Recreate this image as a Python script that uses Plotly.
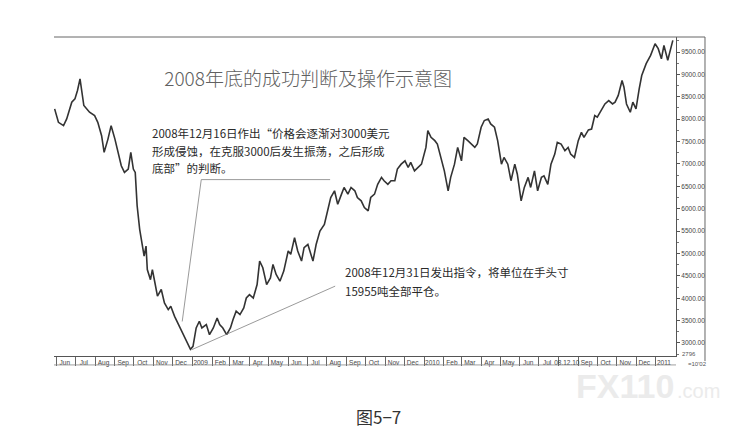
import plotly.graph_objects as go

# price path (USD/t), roughly weekly
dates = [
    "2008-05-29", "2008-06-04", "2008-06-12", "2008-06-17", "2008-06-25", "2008-06-30",
    "2008-07-04", "2008-07-08", "2008-07-14", "2008-07-18", "2008-07-23", "2008-07-31",
    "2008-08-05", "2008-08-11", "2008-08-15", "2008-08-21", "2008-08-26", "2008-09-01",
    "2008-09-05", "2008-09-11", "2008-09-16", "2008-09-22", "2008-09-26", "2008-09-30",
    "2008-10-03", "2008-10-06", "2008-10-10", "2008-10-14", "2008-10-17", "2008-10-20",
    "2008-10-22", "2008-10-27", "2008-10-30", "2008-11-03", "2008-11-07", "2008-11-13",
    "2008-11-18", "2008-11-24", "2008-11-28", "2008-12-04", "2008-12-09", "2008-12-12",
    "2008-12-17", "2008-12-22", "2008-12-29", "2009-01-02", "2009-01-07", "2009-01-12",
    "2009-01-16", "2009-01-23", "2009-01-28", "2009-02-03", "2009-02-09", "2009-02-13",
    "2009-02-18", "2009-02-24", "2009-03-02", "2009-03-06", "2009-03-11", "2009-03-17",
    "2009-03-23", "2009-03-27", "2009-04-01", "2009-04-07", "2009-04-13", "2009-04-17",
    "2009-04-22", "2009-04-28", "2009-05-04", "2009-05-08", "2009-05-13", "2009-05-19",
    "2009-05-25", "2009-06-01", "2009-06-05", "2009-06-11", "2009-06-16", "2009-06-22",
    "2009-06-26", "2009-07-02", "2009-07-10", "2009-07-15", "2009-07-21", "2009-07-28",
    "2009-08-03", "2009-08-07", "2009-08-13", "2009-08-18", "2009-08-24", "2009-08-28",
    "2009-09-03", "2009-09-08", "2009-09-14", "2009-09-18", "2009-09-24", "2009-09-29",
    "2009-10-05", "2009-10-09", "2009-10-15", "2009-10-20", "2009-10-26", "2009-10-30",
    "2009-11-05", "2009-11-10", "2009-11-16", "2009-11-20", "2009-11-26", "2009-12-02",
    "2009-12-07", "2009-12-11", "2009-12-17", "2009-12-22", "2009-12-28", "2010-01-04",
    "2010-01-07", "2010-01-12", "2010-01-18", "2010-01-22", "2010-01-28", "2010-02-02",
    "2010-02-08", "2010-02-12", "2010-02-18", "2010-02-23", "2010-03-01", "2010-03-05",
    "2010-03-11", "2010-03-16", "2010-03-22", "2010-03-26", "2010-04-01", "2010-04-06",
    "2010-04-12", "2010-04-16", "2010-04-22", "2010-04-27", "2010-05-03", "2010-05-07",
    "2010-05-13", "2010-05-18", "2010-05-24", "2010-05-28", "2010-06-03", "2010-06-08",
    "2010-06-14", "2010-06-18", "2010-06-24", "2010-06-29", "2010-07-05", "2010-07-09",
    "2010-07-15", "2010-07-20", "2010-07-26", "2010-07-30", "2010-08-05", "2010-08-11",
    "2010-08-16", "2010-08-20", "2010-08-26", "2010-09-01", "2010-09-06", "2010-09-10",
    "2010-09-17", "2010-09-22", "2010-09-27", "2010-10-01", "2010-10-08", "2010-10-13",
    "2010-10-19", "2010-10-25", "2010-10-29", "2010-11-03", "2010-11-09", "2010-11-12",
    "2010-11-16", "2010-11-22", "2010-11-26", "2010-12-01", "2010-12-06", "2010-12-10",
    "2010-12-17", "2010-12-24", "2010-12-31", "2011-01-05", "2011-01-10", "2011-01-14",
    "2011-01-20", "2011-01-25", "2011-01-28",
]
prices = [
    8230, 7930, 7857, 8005, 8380, 8453,
    8640, 8900, 8305, 8230, 8155, 8080,
    7930, 7630, 7260, 7555, 7855, 7555,
    7330, 6960, 6810, 6885, 7260, 6885,
    6810, 6065, 5540, 5240, 4940, 5165,
    4640, 4415, 4640, 4345, 4045, 4195,
    3895, 3745, 3820, 3595, 3445, 3335,
    3185, 3035, 2860, 2925, 3335, 3485,
    3335, 3410, 3185, 3335, 3560, 3410,
    3335, 3185, 3335, 3520, 3710, 3635,
    3785, 4005, 4080, 4005, 4305, 4830,
    4680, 4305, 4455, 4755, 4530, 4380,
    4605, 5055, 4980, 5350, 5055, 4830,
    5130, 5200, 4830, 5200, 5500, 5650,
    6025, 6250, 6400, 6100, 6325, 6475,
    6325, 6475, 6400, 6250, 6175, 6025,
    5950, 6250, 6325, 6545, 6700, 6625,
    6545, 6625, 6625, 6885, 6995, 7070,
    6920, 7035, 6845, 6920, 6995, 7370,
    7745, 7595, 7520, 7445, 7145, 6845,
    6400, 6700, 6995, 7370, 7070, 7595,
    7520, 7445, 7370, 7445, 7820, 7970,
    8005, 7895, 7820, 7520, 6995, 7145,
    6995, 6625, 6995, 6770, 6175, 6475,
    6700, 6475, 6845, 6400, 6700, 6735,
    6545, 6995, 7220, 7480, 7445, 7295,
    7370, 7220, 7145, 7520, 7705, 7595,
    7760, 7780, 8080, 8045, 8230, 8340,
    8415, 8340, 8380, 8530, 8865, 8715,
    8340, 8155, 8380, 8230, 8675, 8975,
    9240, 9425, 9685, 9575, 9350, 9650,
    9315, 9575, 9760,
]

# month axis: separators at month starts, labels in the middle of each month
month_starts = [
    "2008-06-01", "2008-07-01", "2008-08-01", "2008-09-01", "2008-10-01", "2008-11-01",
    "2008-12-01", "2009-01-01", "2009-02-01", "2009-03-01", "2009-04-01", "2009-05-01",
    "2009-06-01", "2009-07-01", "2009-08-01", "2009-09-01", "2009-10-01", "2009-11-01",
    "2009-12-01", "2010-01-01", "2010-02-01", "2010-03-01", "2010-04-01", "2010-05-01",
    "2010-06-01", "2010-07-01", "2010-08-01", "2010-09-01", "2010-10-01", "2010-11-01",
    "2010-12-01", "2011-01-01",
]
month_mids = [d[:8] + "14" for d in month_starts]
month_labels = [
    "Jun", "Jul", "Aug", "Sep", "Oct", "Nov", "Dec", "2009", "Feb", "Mar", "Apr", "May",
    "Jun", "Jul", "Aug", "Sep", "Oct", "Nov", "Dec", "2010", "Feb", "Mar", "Apr", "May",
    "Jun", "Jul", "08.12.10", "Sep", "Oct", "Nov", "Dec", "2011",
]
price_ticks = [3000, 3500, 4000, 4500, 5000, 5500, 6000, 6500, 7000, 7500, 8000, 8500, 9000, 9500]

TITLE = "2008年底的成功判断及操作示意图"
NOTE1 = [
    "2008年12月16日作出“价格会逐渐对3000美元",
    "形成侵蚀，在克服3000后发生振荡，之后形成",
    "底部”的判断。",
]
NOTE2 = [
    "2008年12月31日发出指令，将单位在手头寸",
    "15955吨全部平仓。",
]

CJK = "Noto Sans CJK SC"
AXIS_FONT = dict(family="Liberation Sans", size=6.5, color="#444")

fig = go.Figure(
    go.Scatter(
        x=dates, y=prices, mode="lines",
        line=dict(color="#333333", width=1.6),
        showlegend=False,
    )
)

fig.update_layout(
    width=754, height=430,
    margin=dict(l=46, r=86, t=29, b=82),
    paper_bgcolor="white", plot_bgcolor="white",
    title=dict(
        text=TITLE, x=0.398, y=0.833, xref="container", yref="container",
        xanchor="center", yanchor="middle",
        font=dict(family=CJK, size=19, color="#606060", weight=300),
    ),
)

fig.update_xaxes(
    type="date", range=["2008-05-28", "2011-02-02"],
    showgrid=False, zeroline=False,
    showline=True, linecolor="#555", linewidth=1,
    tickmode="array", tickvals=month_mids, ticktext=month_labels,
    ticks="outside", ticklen=0, tickangle=0, tickfont=AXIS_FONT,
    minor=dict(tickmode="array", tickvals=month_starts, ticks="outside",
               ticklen=9, tickcolor="#666", tickwidth=1),
)
fig.update_yaxes(
    range=[2709, 9836], side="right",
    showgrid=False, zeroline=False,
    showline=True, linecolor="#555", linewidth=1,
    tickmode="array", tickvals=price_ticks, tickformat=".2f",
    ticks="outside", ticklen=3, tickcolor="#555", tickfont=AXIS_FONT,
    minor=dict(dtick=250, ticks="outside", ticklen=2, tickcolor="#777"),
)

# frame of the scanned chart window
frame = dict(color="#666", width=1)
fig.add_shape(type="line", xref="paper", yref="paper", x0=0, x1=1.0466, y0=1, y1=1, line=frame)
fig.add_shape(type="line", xref="paper", yref="paper", x0=1.0466, x1=1.0466, y0=1, y1=-0.016, line=frame)
fig.add_shape(type="line", xref="paper", yref="paper", x0=0, x1=1.0, y0=-0.028, y1=-0.028,
              line=dict(color="#888", width=0.8))

# pointer lines from the two notes
pointer = dict(color="#808080", width=0.8)
fig.add_shape(type="line", x0="2008-12-16", y0=3480, x1="2009-01-15", y1=6650, line=pointer)
fig.add_shape(type="line", x0="2009-01-15", y0=6650, x1="2009-08-06", y1=6650, line=pointer)
fig.add_shape(type="line", x0="2008-12-31", y0=2850, x1="2009-08-14", y1=4270, line=pointer)

note_font = dict(family=CJK, size=11.5, color="#2a2a2a")
for i, line in enumerate(NOTE1):
    fig.add_annotation(text=line, xref="paper", yref="paper", x=0.1543, y=0.699 - i * 0.055,
                       xanchor="left", yanchor="middle", showarrow=False, font=note_font)
for i, line in enumerate(NOTE2):
    fig.add_annotation(text=line, xref="paper", yref="paper", x=0.4646, y=0.2633 - i * 0.0596,
                       xanchor="left", yanchor="middle", showarrow=False, font=note_font)

# readouts at the corner of the price scale
fig.add_annotation(text="2796", xref="paper", yref="paper", x=1.006, y=0.006,
                   xanchor="left", yanchor="middle", showarrow=False,
                   font=dict(family="Liberation Sans", size=6, color="#555"))
fig.add_annotation(text="=10'02", xref="paper", yref="paper", x=1.016, y=-0.025,
                   xanchor="left", yanchor="middle", showarrow=False,
                   font=dict(family="Liberation Sans", size=6, color="#555"))

# watermark and figure caption
fig.add_annotation(text="<b>FX110</b>", xref="paper", yref="paper", x=0.918, y=-0.094,
                   xanchor="center", yanchor="middle", showarrow=False,
                   font=dict(family="Liberation Sans", size=34, color="#ebebeb"))
fig.add_annotation(text=".com", xref="paper", yref="paper", x=0.998, y=-0.11,
                   xanchor="left", yanchor="middle", showarrow=False,
                   font=dict(family="Liberation Sans", size=20, color="#ebebeb"))
fig.add_annotation(text="图5−7", xref="paper", yref="paper", x=0.5225, y=-0.19,
                   xanchor="center", yanchor="middle", showarrow=False,
                   font=dict(family=CJK, size=17, color="#333"))

fig.write_html("out.html")
